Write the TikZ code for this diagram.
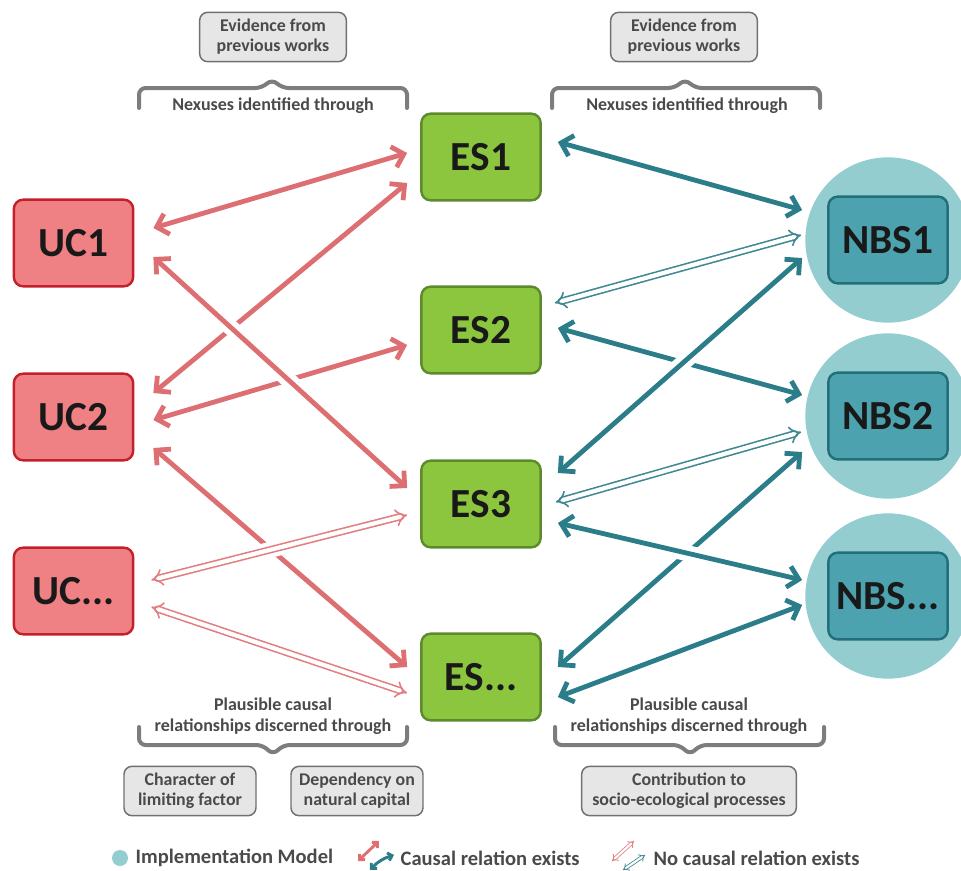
\documentclass[tikz,border=0pt]{standalone}
\usepackage{fontspec}
\setmainfont{Carlito}
\usetikzlibrary{arrows.meta,calc}
\definecolor{ucfill}{HTML}{EF8084}
\definecolor{ucline}{HTML}{C4202C}
\definecolor{esfill}{HTML}{8CC63F}
\definecolor{esline}{HTML}{5C8A2C}
\definecolor{nbsring}{HTML}{93CDD0}
\definecolor{nbsfill}{HTML}{4CA3AF}
\definecolor{nbsline}{HTML}{216F7B}
\definecolor{redarrow}{HTML}{DD6E71}
\definecolor{tealarrow}{HTML}{2B7D89}
\definecolor{redfaint}{HTML}{E27E82}
\definecolor{tealfaint}{HTML}{3F8791}
\definecolor{notefill}{HTML}{E6E6E6}
\definecolor{noteline}{HTML}{707070}
\definecolor{bracegray}{HTML}{7D7D7D}
\definecolor{textgray}{HTML}{4A4A4A}
\begin{document}
\begin{tikzpicture}[x=0.75pt, y=-0.75pt, line cap=round, line join=round, >={Straight Barb[length=8pt,width=16pt]}]
	\tikzset{
		mainbox/.style={rounded corners=7pt, line width=1.8pt, minimum width=89.5pt, minimum height=65pt, inner sep=0pt, font=\bfseries\fontsize{31}{32}\selectfont, text=black!90},
		ucbox/.style={mainbox, fill=ucfill, draw=ucline},
		esbox/.style={mainbox, fill=esfill, draw=esline},
		nbsbox/.style={mainbox, fill=nbsfill, draw=nbsline},
		nbsring/.style={circle, fill=nbsring, minimum size=124pt, inner sep=0pt},
		notebox/.style={rounded corners=6pt, fill=notefill, draw=noteline, line width=1.1pt, minimum height=37pt, inner sep=2pt, align=center, font=\bfseries\fontsize{13.4}{15}\selectfont, text=textgray},
		bracetext/.style={align=center, font=\bfseries\fontsize{13.5}{15.5}\selectfont, text=textgray},
		legendtext/.style={anchor=west, font=\bfseries\fontsize{15.4}{17}\selectfont, text=textgray},
		brace/.style={draw=bracegray, line width=3pt, rounded corners=5pt},
		causalred/.style={draw=redarrow, line width=3.6pt, <->},
		causalteal/.style={draw=tealarrow, line width=3.6pt, <->},
		nocausal/.style={line width=1.2pt, double=white, double distance=3.2pt, dash pattern=on 2.2pt off 0.9pt, {Implies[length=12pt,width=22pt]}-{Implies[length=12pt,width=22pt]}},
		nocausalred/.style={nocausal, draw=redfaint},
		nocausalteal/.style={nocausal, draw=tealfaint},
		crossgap/.style={draw=white, line width=12pt, line cap=butt}
	}
	\useasboundingbox (0,0) rectangle (961,871);

	\node[nbsring] (NBS1ring) at (888,240) {};
	\node[nbsring] (NBS2ring) at (888,416) {};
	\node[nbsring] (NBSnring) at (888,596) {};

	\node[ucbox] (UC1) at (73.5,243) {UC1};
	\node[ucbox] (UC2) at (73.5,417) {UC2};
	\node[ucbox] (UCn) at (73.5,591) {UC...};
	\node[esbox] (ES1) at (481,157) {ES1};
	\node[esbox] (ES2) at (481,330) {ES2};
	\node[esbox] (ES3) at (481,504) {ES3};
	\node[esbox] (ESn) at (481,677) {ES...};
	\node[nbsbox] (NBS1) at (888,240) {NBS1};
	\node[nbsbox] (NBS2) at (888,416) {NBS2};
	\node[nbsbox] (NBSn) at (888,596) {NBS...};

	\coordinate (uc1es3a) at ($(UC1.east)+(19,14)$);
	\coordinate (uc1es3b) at ($(ES3.west)+(-13,-16)$);
	\coordinate (ucnes3a) at ($(UCn.east)+(17,-11)$);
	\coordinate (ucnes3b) at ($(ES3.west)+(-13,11)$);
	\coordinate (es3nbs1a) at ($(ES3.east)+(16,-31)$);
	\coordinate (es3nbs1b) at ($(NBS1.west)+(-25,18)$);
	\coordinate (es3nbsna) at ($(ES3.east)+(16,19)$);
	\coordinate (es3nbsnb) at ($(NBSn.west)+(-25,-16)$);

	\draw[causalred] ($(UC1.east)+(19,-15)$) -- ($(ES1.west)+(-13,-4)$);
	\draw[causalred] ($(UC2.east)+(19,-24)$) -- ($(ES1.west)+(-13,26)$);
	\draw[causalred] ($(UC2.east)+(19,3)$) -- ($(ES2.west)+(-13,15)$);
	\draw[causalred] ($(UC2.east)+(19,31)$) -- ($(ESn.west)+(-13,-10)$);
	\draw[nocausalred] ($(UCn.east)+(17,16)$) -- ($(ESn.west)+(-13,16)$);
	\draw[crossgap] ($(uc1es3a)!0.15!(uc1es3b)$) -- ($(uc1es3a)!0.85!(uc1es3b)$);
	\draw[causalred] (uc1es3a) -- (uc1es3b);
	\draw[crossgap] ($(ucnes3a)!0.15!(ucnes3b)$) -- ($(ucnes3a)!0.85!(ucnes3b)$);
	\draw[nocausalred] (ucnes3a) -- (ucnes3b);

	\draw[causalteal] ($(ES1.east)+(16,-15)$) -- ($(NBS1.west)+(-25,-30)$);
	\draw[nocausalteal] ($(ES2.east)+(13,-27)$) -- ($(NBS1.west)+(-26,-5)$);
	\draw[causalteal] ($(ES2.east)+(16,-2)$) -- ($(NBS2.west)+(-25,-21)$);
	\draw[nocausalteal] ($(ES3.east)+(14,-2)$) -- ($(NBS2.west)+(-26,16)$);
	\draw[causalteal] ($(ESn.east)+(16,-10)$) -- ($(NBS2.west)+(-25,36)$);
	\draw[causalteal] ($(ESn.east)+(16,20)$) -- ($(NBSn.west)+(-25,9)$);
	\draw[crossgap] ($(es3nbs1a)!0.15!(es3nbs1b)$) -- ($(es3nbs1a)!0.85!(es3nbs1b)$);
	\draw[causalteal] (es3nbs1a) -- (es3nbs1b);
	\draw[crossgap] ($(es3nbsna)!0.15!(es3nbsnb)$) -- ($(es3nbsna)!0.85!(es3nbsnb)$);
	\draw[causalteal] (es3nbsna) -- (es3nbsnb);

	\node[notebox, minimum width=110pt] (evidL) at (273,37) {Evidence from\\previous works};
	\node[notebox, minimum width=110pt] (evidR) at (684,37) {Evidence from\\previous works};
	\draw[brace] (139,108) -- (139,88) -- (262,88) -- (272,79) -- (282,88) -- (407,88) -- (407,108);
	\draw[brace] (552,108) -- (552,88) -- (675,88) -- (685,79) -- (695,88) -- (820,88) -- (820,108);
	\node[bracetext] (nexL) at (273,106) {Nexuses identified through};
	\node[bracetext] (nexR) at (687,106) {Nexuses identified through};

	\node[bracetext] (plauL) at (273,716) {Plausible causal\\relationships discerned through};
	\node[bracetext] (plauR) at (689,716) {Plausible causal\\relationships discerned through};
	\draw[brace] (139,727) -- (139,745) -- (263,745) -- (273,755) -- (283,745) -- (407,745) -- (407,727);
	\draw[brace] (555,727) -- (555,745) -- (680,745) -- (690,755) -- (700,745) -- (824,745) -- (824,727);
	\node[notebox, minimum width=99pt] (limit) at (190,791) {Character of\\limiting factor};
	\node[notebox, minimum width=99pt] (depend) at (357,791) {Dependency on\\natural capital};
	\node[notebox, minimum width=161pt] (contrib) at (689,791) {Contribution to\\socio-ecological processes};

	\fill[nbsring] (120,858) circle (8);
	\node[legendtext] (legIM) at (131,858) {Implementation Model};
	\draw[redarrow, line width=2.2pt, {Straight Barb[length=3pt,width=6pt]}-{Straight Barb[length=3pt,width=6pt]}] (358,861) -- (379,841);
	\draw[tealarrow, line width=2.2pt, {Straight Barb[length=3pt,width=6pt]}-{Straight Barb[length=3pt,width=6pt]}] (370,870) to[bend left=15] (394,855);
	\node[legendtext] (legC) at (396,858) {Causal relation exists};
	\draw[redfaint, line width=0.6pt, double=white, double distance=1.6pt, {Implies[length=4pt,width=7pt]}-{Implies[length=4pt,width=7pt]}] (612,861) -- (634,841);
	\draw[tealfaint, line width=0.6pt, double=white, double distance=1.6pt, {Implies[length=4pt,width=7pt]}-{Implies[length=4pt,width=7pt]}] (623,870) -- (645,855);
	\node[legendtext] (legN) at (649,858) {No causal relation exists};
\end{tikzpicture}
\end{document}
